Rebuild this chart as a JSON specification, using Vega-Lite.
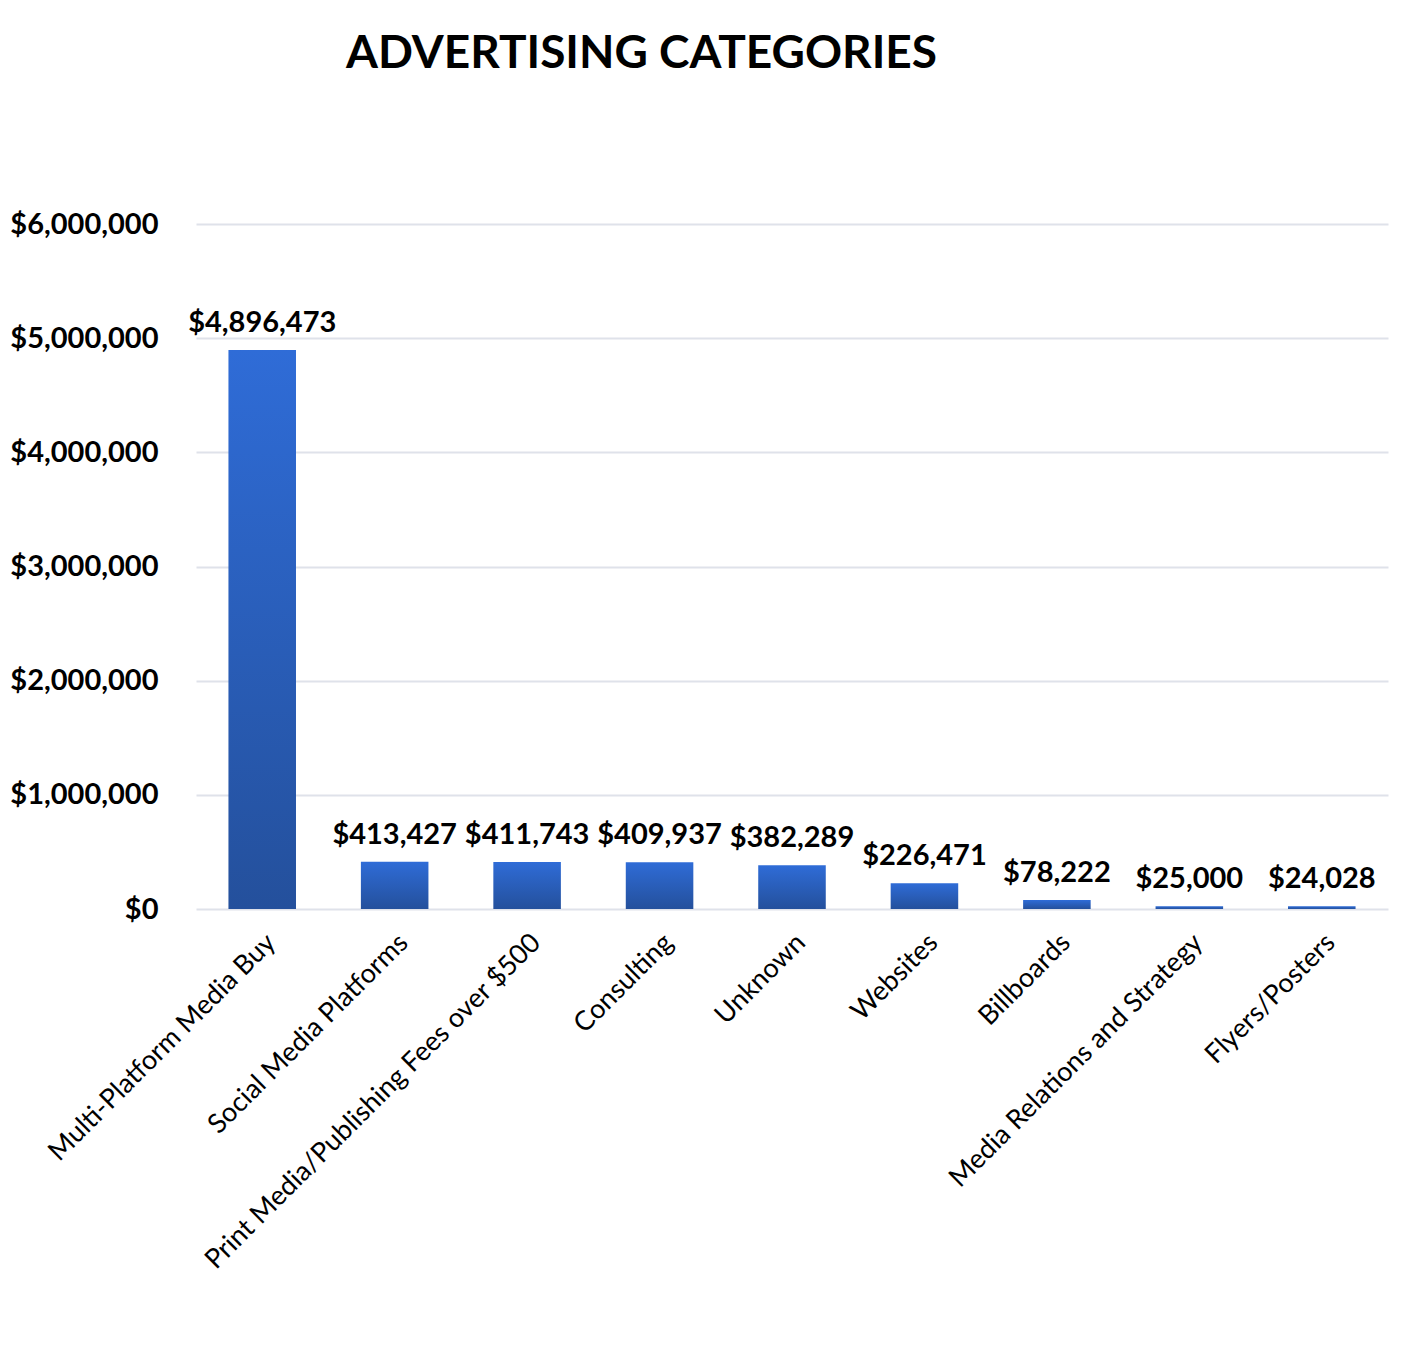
{
  "$schema": "https://vega.github.io/schema/vega-lite/v6.json",
  "autosize": {"type": "none"},
  "width": 1192,
  "height": 685,
  "padding": {"left": 196, "top": 224, "right": 27, "bottom": 438},
  "background": "white",
  "title": {
    "text": "ADVERTISING CATEGORIES",
    "anchor": "start",
    "frame": "group",
    "dx": 150,
    "offset": 132,
    "font": "Lato",
    "fontSize": 46,
    "fontWeight": "bold",
    "color": "black"
  },
  "data": {
    "values": [
      {"category": "Multi-Platform Media Buy", "amount": 4896473},
      {"category": "Social Media Platforms", "amount": 413427},
      {"category": "Print Media/Publishing Fees over $500", "amount": 411743},
      {"category": "Consulting", "amount": 409937},
      {"category": "Unknown", "amount": 382289},
      {"category": "Websites", "amount": 226471},
      {"category": "Billboards", "amount": 78222},
      {"category": "Media Relations and Strategy", "amount": 25000},
      {"category": "Flyers/Posters", "amount": 24028}
    ]
  },
  "encoding": {
    "x": {
      "field": "category",
      "type": "nominal",
      "sort": null,
      "scale": {"paddingInner": 0.49, "paddingOuter": 0.245},
      "axis": {
        "title": null,
        "labelAngle": -45,
        "labelFont": "Lato",
        "labelFontSize": 27,
        "labelColor": "black",
        "labelPadding": 20,
        "ticks": false,
        "domain": false,
        "labelLimit": 700
      }
    },
    "y": {
      "field": "amount",
      "type": "quantitative",
      "scale": {"domain": [0, 6000000], "nice": false},
      "axis": {
        "title": null,
        "values": [0, 1000000, 2000000, 3000000, 4000000, 5000000, 6000000],
        "format": "$,.0f",
        "labelFont": "Lato",
        "labelFontSize": 29,
        "labelFontWeight": "bold",
        "labelColor": "black",
        "labelPadding": 38,
        "ticks": false,
        "domain": false,
        "gridColor": "#dfe2ea",
        "gridWidth": 2
      }
    }
  },
  "layer": [
    {
      "mark": {
        "type": "bar",
        "color": {
          "gradient": "linear",
          "x1": 0, "y1": 0, "x2": 0, "y2": 1,
          "stops": [
            {"offset": 0, "color": "#2f6cd7"},
            {"offset": 1, "color": "#24509c"}
          ]
        }
      }
    },
    {
      "mark": {
        "type": "text",
        "baseline": "bottom",
        "dy": -12,
        "font": "Lato",
        "fontSize": 29,
        "fontWeight": "bold",
        "color": "black"
      },
      "encoding": {
        "text": {"field": "amount", "type": "quantitative", "format": "$,.0f"}
      }
    }
  ],
  "config": {
    "view": {"stroke": null}
  }
}
